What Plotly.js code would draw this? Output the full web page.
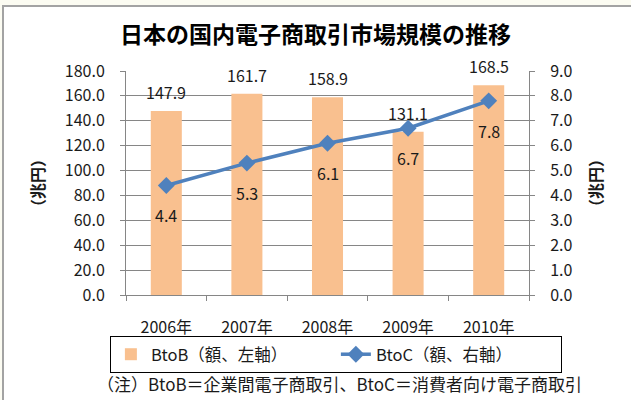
<!DOCTYPE html>
<html>
<head>
<meta charset="utf-8">
<script src="https://cdn.plot.ly/plotly-3.0.1.min.js"></script>
<style>
  html, body { margin: 0; padding: 0; background: #fcfcf2; }
  #frame {
    position: absolute; left: 2px; top: 5px; width: 640px; height: 400px;
    background: #ffffff; border-top: 2px solid #a3a3a3; border-left: 2px solid #a3a3a3;
  }
  #grafikoa { position: absolute; left: 0; top: 0; width: 631px; height: 400px; }
</style>
</head>
<body>
<div id="frame"></div>
<div id="grafikoa"></div>
<script>
// Datuak
let years = ["2006年", "2007年", "2008年", "2009年", "2010年"]
let btob = [147.9, 161.7, 158.9, 131.1, 168.5]   // 左軸, 兆円
let btoc = [4.4, 5.3, 6.1, 6.7, 7.8]             // 右軸, 兆円

let fontFam = '"Noto Sans CJK JP", "Noto Sans", sans-serif'
let gridColor = '#868686'

let data = [
    {
        type: 'bar', name: 'BtoB（額、左軸）',
        x: years, y: btob,
        marker: {color: '#f9c08f'},
        hoverinfo: 'y'
    },
    {
        type: 'scatter', mode: 'lines+markers', name: 'BtoC（額、右軸）',
        x: years, y: btoc, yaxis: 'y2',
        line: {color: '#4f81bd', width: 3.5},
        marker: {symbol: 'diamond', size: 13, color: '#4f81bd'},
        cliponaxis: false
    }
]

// Etiketak: barren gainean eta lerroaren azpian
let annotations = []
for (let i = 0; i < years.length; i++) {
    annotations.push({
        x: years[i], y: btob[i], xref: 'x', yref: 'y',
        text: btob[i].toFixed(1), showarrow: false,
        yanchor: 'middle', yshift: 19,
        font: {size: 16, color: '#1a1a1a'}
    })
    annotations.push({
        x: years[i], y: btoc[i], xref: 'x', yref: 'y2',
        text: btoc[i].toFixed(1), showarrow: false,
        yanchor: 'middle', yshift: -30,
        font: {size: 16, color: '#1a1a1a'}
    })
}
// Oharra
annotations.push({
    x: 0.531, y: -0.395, xref: 'paper', yref: 'paper',
    text: '（注）BtoB＝企業間電子商取引、BtoC＝消費者向け電子商取引',
    showarrow: false, xanchor: 'center', yanchor: 'middle',
    font: {size: 17, color: '#1a1a1a'}
})

let layout = {
    width: 631, height: 400,
    paper_bgcolor: 'rgba(0,0,0,0)',
    plot_bgcolor: '#ffffff',
    margin: {l: 126, r: 102, t: 71, b: 105},
    font: {family: fontFam, size: 16, color: '#1a1a1a'},
    title: {
        text: '<b>日本の国内電子商取引市場規模の推移</b>',
        x: 0.5, xanchor: 'center', y: 0.913, yanchor: 'middle',
        font: {size: 23, color: '#000000'}
    },
    bargap: 0.615,
    showlegend: true,
    legend: {
        orientation: 'h', x: -0.04, xanchor: 'left', y: -0.183, yanchor: 'top',
        bordercolor: '#000000', borderwidth: 1,
        entrywidth: 180, entrywidthmode: 'pixels',
        font: {size: 16.5}
    },
    xaxis: {
        type: 'category',
        showline: true, linecolor: gridColor, linewidth: 1,
        ticks: 'outside', tickson: 'boundaries', ticklen: 5, tickcolor: gridColor,
        ticklabelstandoff: 18,
        tickfont: {size: 16}
    },
    yaxis: {
        range: [0, 180], dtick: 20, tickformat: '.1f',
        showline: true, linecolor: gridColor, linewidth: 1,
        showgrid: true, gridcolor: gridColor, gridwidth: 1,
        ticks: 'outside', ticklen: 5, tickcolor: gridColor,
        ticklabelstandoff: 12,
        zeroline: false,
        title: {text: '<b>（兆円）</b>', standoff: 16, font: {size: 16}}
    },
    yaxis2: {
        overlaying: 'y', side: 'right',
        range: [0, 9], dtick: 1, tickformat: '.1f',
        showline: true, linecolor: gridColor, linewidth: 1,
        showgrid: false, zeroline: false,
        ticks: 'outside', ticklen: 5, tickcolor: gridColor,
        ticklabelstandoff: 12,
        title: {text: '<b>（兆円）</b>', standoff: 19, font: {size: 16}}
    },
    annotations: annotations
}

Plotly.newPlot(document.getElementById('grafikoa'), data, layout, {displayModeBar: false, staticPlot: true})
</script>
</body>
</html>
